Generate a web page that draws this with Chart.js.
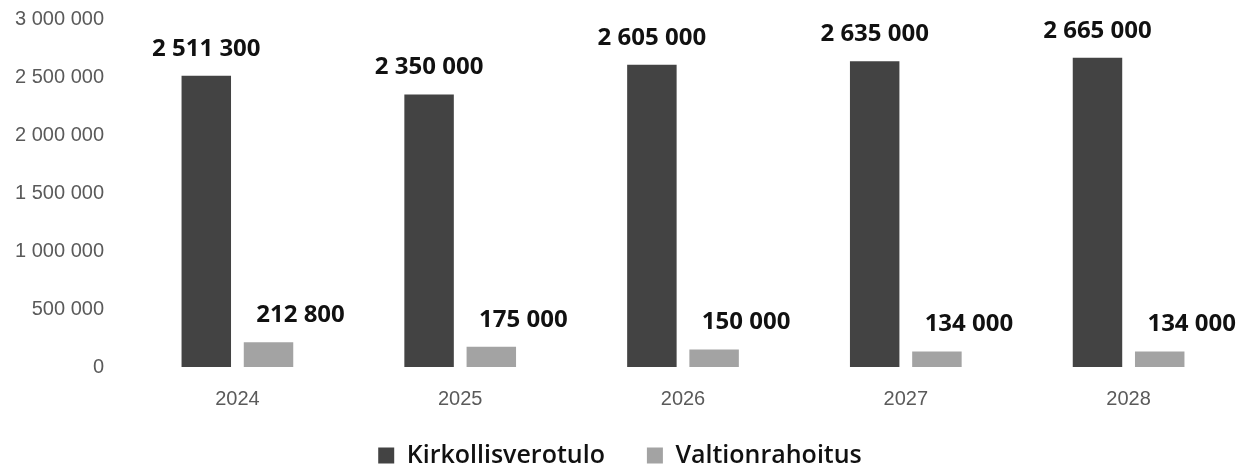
<!DOCTYPE html>
<html><head><meta charset="utf-8">
<script src="https://cdn.jsdelivr.net/npm/chart.js@4/dist/chart.umd.min.js"></script>
<style>html,body{margin:0;padding:0;background:#fff;}#wrap{width:1247px;height:469px;position:relative;}</style>
</head><body><div id="wrap"><canvas id="c"></canvas></div>
<script>
const years = ['2024', '2025', '2026', '2027', '2028'];
const kirkollisverotulo = [2511300, 2350000, 2605000, 2635000, 2665000];
const valtionrahoitus = [212800, 175000, 150000, 134000, 134000];
const seriesNames = ['Kirkollisverotulo', 'Valtionrahoitus'];
const yAxisMax = 3000000;
const yAxisStep = 500000;

function fmt(v) { return String(v).replace(/\B(?=(\d{3})+(?!\d))/g, ' '); }

const legendFit = {
  id: 'legendFit',
  beforeInit(chart) {
    const lg = chart.legend;
    if (lg) {
      const orig = lg.fit;
      lg.fit = function () { orig.call(this); this.height = 57; };
    }
  },
  afterLayout(chart) {
    const lg = chart.legend;
    if (lg) { lg.top -= 11; }
  }
};

const dataLabels = {
  id: 'dataLabels',
  afterDatasetsDraw(chart) {
    const ctx = chart.ctx;
    ctx.save();
    ctx.font = '700 24px "Open Sans"';
    ctx.fillStyle = '#111';
    ctx.textAlign = 'center';
    ctx.textBaseline = 'middle';
    chart.data.datasets.forEach((ds, di) => {
      const meta = chart.getDatasetMeta(di);
      meta.data.forEach((bar, i) => {
        const dx = di === 1 ? 32 : 0;
        ctx.fillText(fmt(ds.data[i]), bar.x + dx, bar.y - 27);
      });
    });
    ctx.restore();
  }
};

new Chart(document.getElementById('c'), {
  type: 'bar',
  data: {
    labels: years,
    datasets: [
      { label: seriesNames[0], data: kirkollisverotulo, backgroundColor: '#434343', categoryPercentage: 0.5586, barPercentage: 0.795 },
      { label: seriesNames[1], data: valtionrahoitus, backgroundColor: '#a3a3a3', categoryPercentage: 0.5586, barPercentage: 0.795 }
    ]
  },
  options: {
    responsive: true,
    maintainAspectRatio: false,
    animation: false,
    layout: { padding: { top: 19, right: 7, bottom: 0, left: 0 } },
    scales: {
      x: {
        grid: { display: false, drawTicks: false },
        border: { display: false },
        ticks: { font: { family: '"Liberation Sans"', size: 20 }, color: '#5a5a5a', padding: 20 },
        afterFit(s) { s.height = 45; }
      },
      y: {
        min: 0, max: yAxisMax,
        grid: { display: false, drawTicks: false },
        border: { display: false },
        ticks: { stepSize: yAxisStep, font: { family: '"Liberation Sans"', size: 20 }, color: '#5a5a5a', padding: 22, callback: v => fmt(v) },
        afterFit(s) { s.width = 126; s.paddingTop = 12; s.paddingBottom = 12; }
      }
    },
    plugins: {
      legend: {
        position: 'bottom',
        labels: { font: { family: '"Open Sans"', size: 25, weight: '600' }, color: '#111', boxWidth: 16, boxHeight: 16, padding: 42 }
      },
      tooltip: { enabled: false }
    }
  },
  plugins: [legendFit, dataLabels]
});
</script></body></html>
